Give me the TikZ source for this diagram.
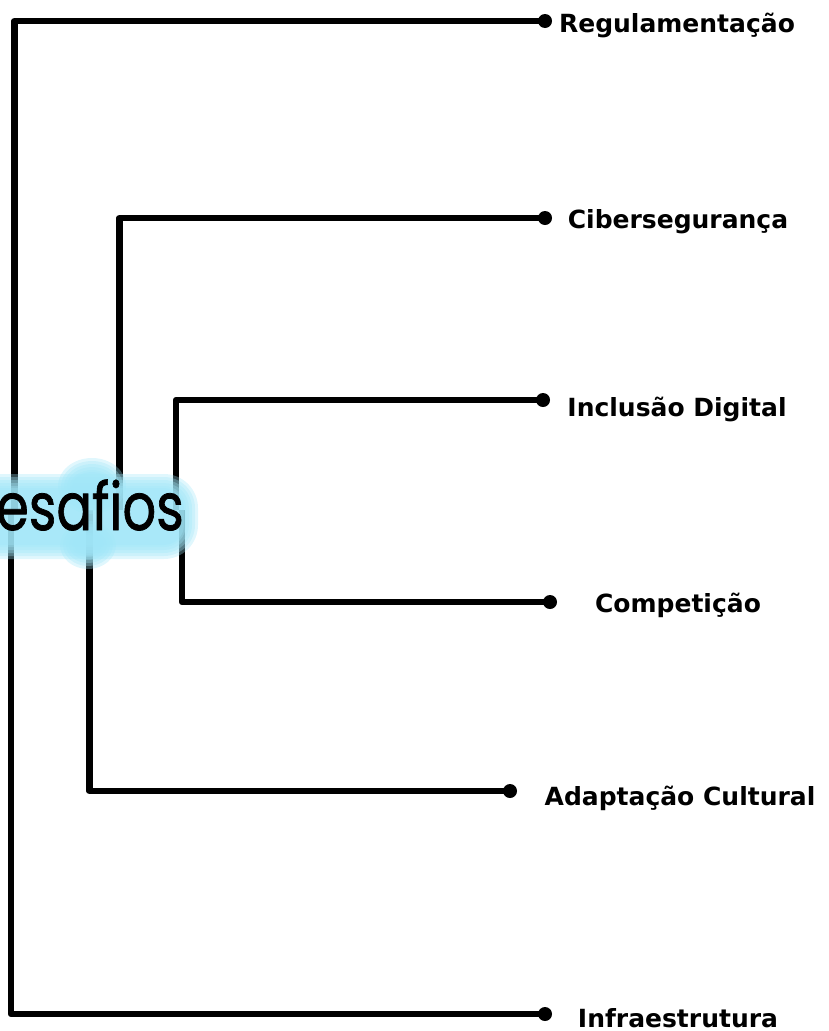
\documentclass[tikz,border=0pt]{standalone}
\usepackage{fontspec}
\newfontfamily\labfont{DejaVu Sans}
\newfontfamily\rootfont{Poppins}[FakeBold=1.2]
\definecolor{glowc}{RGB}{160,230,248}
\tikzset{
  conn/.style={line width=6.5pt, line join=round, black},
  leaf/.style={anchor=base, inner sep=0pt, font=\labfont\bfseries\fontsize{25}{25}\selectfont},
  rootlbl/.style={anchor=base east, inner sep=0pt, font=\rootfont\fontsize{66}{66}\selectfont},
  glowlayer/.style={fill=glowc, fill opacity=0.32, draw=none},
}
\begin{document}
\begin{tikzpicture}[x=1pt,y=1pt]
\useasboundingbox (0,0) rectangle (829,-1031);
% branch start coordinates (at the root)
\coordinate (s1) at (14.5,-510);
\coordinate (s2) at (119.5,-510);
\coordinate (s3) at (176,-510);
\coordinate (s4) at (182,-510);
\coordinate (s5) at (89.5,-510);
\coordinate (s6) at (11,-510);
% dots
\coordinate (d1) at (545,-21);
\coordinate (d2) at (545,-218);
\coordinate (d3) at (543,-400);
\coordinate (d4) at (550,-602);
\coordinate (d5) at (510,-791);
\coordinate (d6) at (545,-1014);
% connectors
\draw[conn] (s1) |- (d1);
\draw[conn] (s2) |- (d2);
\draw[conn] (s3) |- (d3);
\draw[conn] (s4) |- (d4);
\draw[conn] (s5) |- (d5);
\draw[conn] (s6) |- (d6);
\foreach \d in {d1,d2,d3,d4,d5,d6} \fill (\d) circle (7pt);
% leaves
\node[leaf] (l1) at (677,-32) {Regulamentação};
\node[leaf] (l2) at (678,-228) {Cibersegurança};
\node[leaf] (l3) at (677,-416) {Inclusão Digital};
\node[leaf] (l4) at (678,-612) {Competição};
\node[leaf] (l5) at (680,-805) {Adaptação Cultural};
\node[leaf] (l6) at (678,-1027) {Infraestrutura};
% glow behind the root
\foreach \e in {14,11,8,5,2,0}{
  \fill[glowlayer, rounded corners={20pt+\e pt}] (-30,-488+\e) rectangle (184+\e,-545-\e);
  \fill[glowlayer] (92,-486) ellipse ({20+\e} and {14+\e});
  \fill[glowlayer] (88,-545) ellipse ({14+\e} and {10+\e});
}
\node[rootlbl] (root) at (184,-530) {\scalebox{0.8}[1]{Desafios}};
\end{tikzpicture}
\end{document}
